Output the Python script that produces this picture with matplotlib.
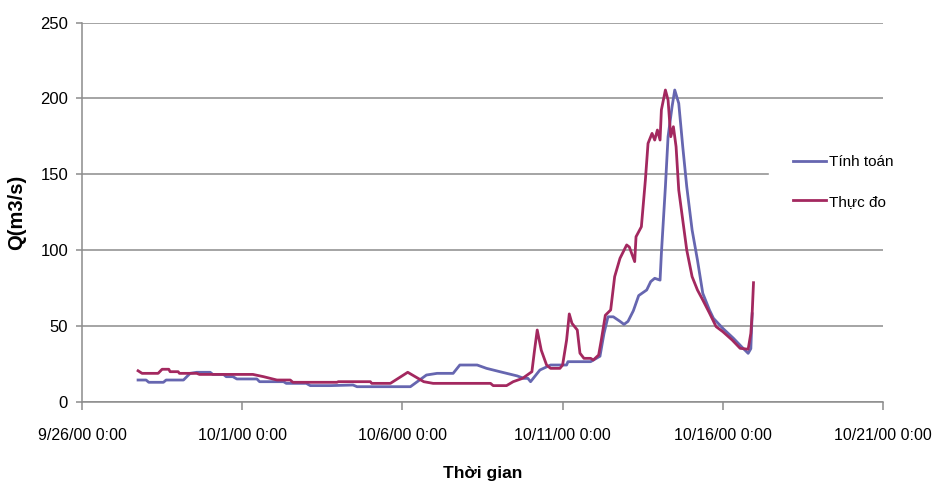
import pandas as pd
import matplotlib
matplotlib.use("Agg")
import matplotlib.pyplot as plt
import matplotlib.dates as mdates
from matplotlib.ticker import FuncFormatter

plt.rcParams['font.family'] = ['Liberation Sans', 'DejaVu Sans']

t0 = pd.Timestamp("2000-09-26 00:00")

# computed discharge (hours after t0, m3/s)
calc_hours = [42, 48, 50, 61, 63, 76, 81, 86, 96, 98, 106, 108, 113, 116, 131, 133,
              151, 153, 168, 171, 186, 203, 206, 246, 258, 266, 278, 283, 296, 303,
              313, 326, 331, 334, 336, 343, 351, 363, 364, 381, 388, 391, 394, 398,
              403, 406, 409, 413, 417, 423, 426, 429, 433, 434, 437, 439, 442, 444,
              447, 450, 453, 457, 461, 465, 470, 473, 480, 488, 494, 499, 501, 502]
calc_q = [14.3, 14.3, 12.8, 12.8, 14.3, 14.3, 18.7, 19.4, 19.4, 18.0, 18.0, 16.5,
          16.5, 15.0, 15.0, 13.2, 13.2, 12.1, 12.1, 10.6, 10.6, 11.0, 9.9, 9.9, 17.6,
          18.7, 18.7, 24.2, 24.2, 22.0, 19.8, 17.0, 15.4, 15.4, 13.2, 20.9, 24.2,
          24.2, 26.4, 26.4, 30.0, 45.0, 56.0, 56.0, 53.0, 51.0, 53.0, 60.0, 70.0,
          73.7, 79.2, 81.4, 80.2, 97.9, 141.8, 174.8, 194.6, 205.6, 196.8, 168.2,
          141.8, 113.3, 93.5, 71.5, 60.5, 55.0, 48.4, 41.8, 36.3, 31.9, 35.0, 58.0]

# measured discharge
obs_hours = [42, 45, 57, 60, 65, 66, 72, 73, 86, 88, 128, 136, 146, 156, 158, 191,
             192, 216, 217, 231, 244, 256, 263, 306, 308, 318, 323, 330, 337, 339,
             341, 344, 348, 351, 358, 360, 363, 365, 367, 371, 373, 376, 381, 383,
             387, 389, 392, 396, 399, 403, 408, 410, 414, 415, 419, 422, 424, 427,
             429, 431, 433, 434, 437, 439, 441, 443, 445, 447, 450, 453, 457, 461,
             465, 470, 475, 480, 487, 493, 499, 501, 502, 503]
obs_q = [20.4, 18.7, 18.7, 21.4, 21.4, 19.8, 19.8, 18.7, 18.7, 18.0, 18.0, 16.5,
         14.3, 14.3, 12.8, 12.8, 13.2, 13.2, 12.1, 12.1, 19.4, 13.2, 12.1, 12.1,
         10.6, 10.6, 13.2, 15.4, 19.8, 34.1, 47.3, 34.0, 24.2, 22.0, 22.0, 24.2,
         40.7, 57.9, 51.7, 47.3, 32.0, 28.6, 28.6, 27.5, 30.8, 40.7, 57.0, 60.5,
         82.5, 94.6, 103.4, 102.0, 92.4, 108.8, 115.4, 146.2, 170.4, 177.0, 172.6,
         179.2, 172.6, 192.5, 205.6, 199.0, 174.8, 181.4, 168.2, 139.6, 119.8,
         100.0, 82.5, 73.7, 67.1, 58.5, 49.5, 46.2, 40.7, 35.2, 34.6, 45.1, 58.3, 78.5]

x_ticks = pd.date_range("2000-09-26", "2000-10-21", freq="5D")
y_ticks = [0, 50, 100, 150, 200, 250]

calc_t = t0 + pd.to_timedelta(calc_hours, unit="h")
obs_t = t0 + pd.to_timedelta(obs_hours, unit="h")

fig = plt.figure(figsize=(9.32, 4.86), dpi=100)
ax = fig.add_axes([82 / 932, 1 - 401.7 / 486, 801 / 932, 379 / 486])

ax.plot(calc_t, calc_q, color="#6666b0", lw=2.0, label="Tính toán", zorder=3)
ax.plot(obs_t, obs_q, color="#a3285f", lw=2.0, label="Thực đo", zorder=3)

ax.set_xlim(x_ticks[0], x_ticks[-1])
ax.set_ylim(0, 250)
ax.set_xticks(x_ticks)
ax.set_yticks(y_ticks)
ax.xaxis.set_major_formatter(FuncFormatter(
    lambda v, pos: (lambda d: f"{d.month}/{d.day}/{d:%y} 0:00")(mdates.num2date(v))))

ax.grid(axis="y", color="#8c8c8c", lw=1.1)
ax.set_axisbelow(True)
for side in ("top", "right"):
    ax.spines[side].set_visible(False)
for side in ("left", "bottom"):
    ax.spines[side].set_color("#8c8c8c")
    ax.spines[side].set_linewidth(1.1)

ax.tick_params(axis="x", length=6, width=1.1, color="#8c8c8c", pad=13, labelsize=11.5)
ax.tick_params(axis="y", length=4, width=1.1, color="#8c8c8c", pad=6, labelsize=12)

ax.set_xlabel("Thời gian", fontsize=12.5, fontweight="bold")
ax.xaxis.set_label_coords(0.5, -(473 - 401.7) / 379)
ax.xaxis.label.set_va("center")
ax.set_ylabel("Q(m3/s)", fontsize=14.5, fontweight="bold")
ax.yaxis.set_label_coords((17 - 82) / 801, 0.5)
ax.yaxis.label.set_va("center")

leg = ax.legend(loc="upper left", bbox_to_anchor=(769 / 932, 1 - 131 / 486),
                bbox_transform=fig.transFigure, fontsize=11, frameon=True,
                fancybox=False, borderpad=1.6, labelspacing=1.66,
                handlelength=2.1, handletextpad=0.2, borderaxespad=0)
leg.get_frame().set_facecolor("white")
leg.get_frame().set_edgecolor("white")
leg.get_frame().set_alpha(1)
leg.set_zorder(5)

fig.savefig("out.png", dpi=100)
